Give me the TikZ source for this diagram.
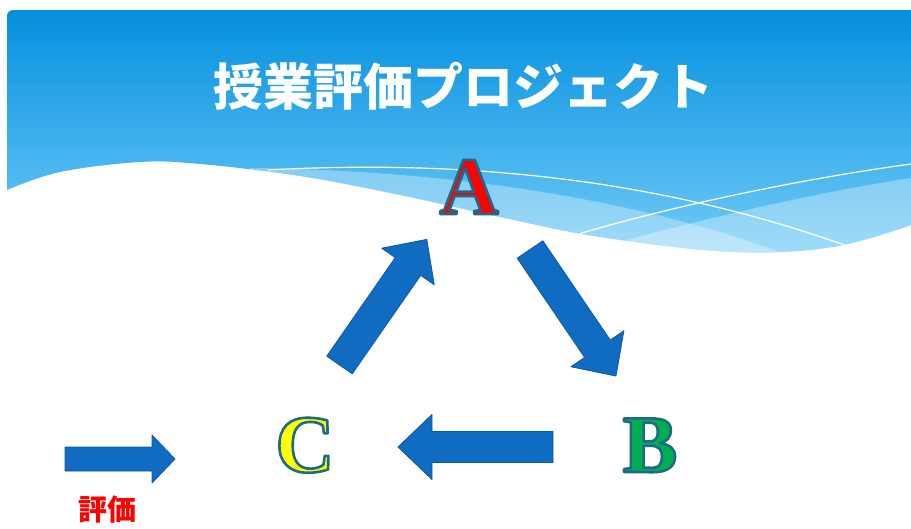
\documentclass[tikz,border=0pt]{standalone}
\usepackage{fontspec}
\setmainfont{Liberation Serif}
\newfontfamily\jpfont{Noto Sans CJK JP}
\definecolor{hdrtop}{HTML}{0490DF}
\definecolor{hdrbot}{HTML}{74CCF8}
\definecolor{arrowblue}{HTML}{106CC0}
\definecolor{arrowedge}{HTML}{0B5AA6}
\definecolor{lettergreen}{HTML}{00B050}
\definecolor{letteryellow}{HTML}{FFFF00}
\definecolor{letterred}{HTML}{FF0000}
\tikzset{
  arrowstyle/.style={fill=arrowblue, draw=arrowedge, line width=0.8pt, line join=round},
  lettertext/.style={font=\fontsize{82}{82}\selectfont\bfseries, anchor=base, inner sep=0pt},
  titletext/.style={font=\jpfont\bfseries\fontsize{50}{50}\selectfont, text=white, inner sep=0pt},
  labeltext/.style={font=\jpfont\bfseries\fontsize{29}{29}\selectfont, text=letterred, inner sep=0pt},
  waveline/.style={draw=white, line width=1.2pt},
  wavelayer/.style={fill=white, opacity=0.32}
}
% block arrow: x, y (tail centre), angle, length, shaft half width, head half width, head length
\newcommand{\blockarrow}[7]{%
  \begin{scope}[shift={(#1,#2)}, rotate=#3]
    \filldraw[arrowstyle] (0,-#5) -- ({#4-#7},-#5) -- ({#4-#7},-#6) -- (#4,0)
      -- ({#4-#7},#6) -- ({#4-#7},#5) -- (0,#5) -- cycle;
  \end{scope}}
% outlined letter: name, x, y (base), colour, text (outline colour #1E6A8A)
\newcommand{\outlinedletter}[5]{%
  \node[lettertext, text=#4] (#1) at (#2,#3)
    {\special{pdf:literal direct 2 Tr 2.6 w 1 j 0.118 0.416 0.541 RG}#5\special{pdf:literal direct 0 Tr 0.4 w 0 j}};}
\begin{document}
\begin{tikzpicture}[x=1pt, y=-1pt]
  \useasboundingbox (0,0) rectangle (911,528);
  \fill[white] (0,0) rectangle (911,528);
  % header with wave
  \begin{scope}
    \clip (7,190) -- (7,16) .. controls (7,12.7) and (9.7,10) .. (13,10) -- (911,10) -- (911,225)
      -- plot[smooth, tension=0.6] coordinates {(911,225) (833,247) (733,252) (600,237) (500,217) (400,195) (300,176) (200,164) (140,162) (60,172) (7,190)} -- cycle;
    \shade[top color=hdrtop, bottom color=hdrbot] (7,10) rectangle (911,260);
    \fill[wavelayer] (250,168) .. controls (450,170) and (650,200) .. (800,260) -- (250,260) -- cycle;
    \fill[wavelayer] (590,250) .. controls (680,225) and (800,195) .. (911,178) -- (911,260) -- cycle;
    \draw[waveline] (268,170) .. controls (450,160) and (650,175) .. (850,247);
    \draw[waveline] (565,238) .. controls (650,212) and (780,182) .. (911,164);
  \end{scope}
  % title
  \node[titletext] (title) at (463,86) {授業評価プロジェクト};
  % letters
  \outlinedletter{A}{469}{214}{letterred}{A}
  \outlinedletter{B}{650}{472}{lettergreen}{B}
  \outlinedletter{C}{305}{472}{letteryellow}{C}
  % cycle arrows
  \blockarrow{339.5}{365}{55.2}{153}{15.5}{32}{33}
  \blockarrow{530}{249.5}{-55.8}{153}{15.5}{32}{33}
  \blockarrow{553}{447}{180}{155}{15.5}{32.5}{34}
  % legend
  \blockarrow{65}{459}{0}{110}{12}{24}{23}
  \node[labeltext] (label) at (107,510) {評価};
\end{tikzpicture}
\end{document}
